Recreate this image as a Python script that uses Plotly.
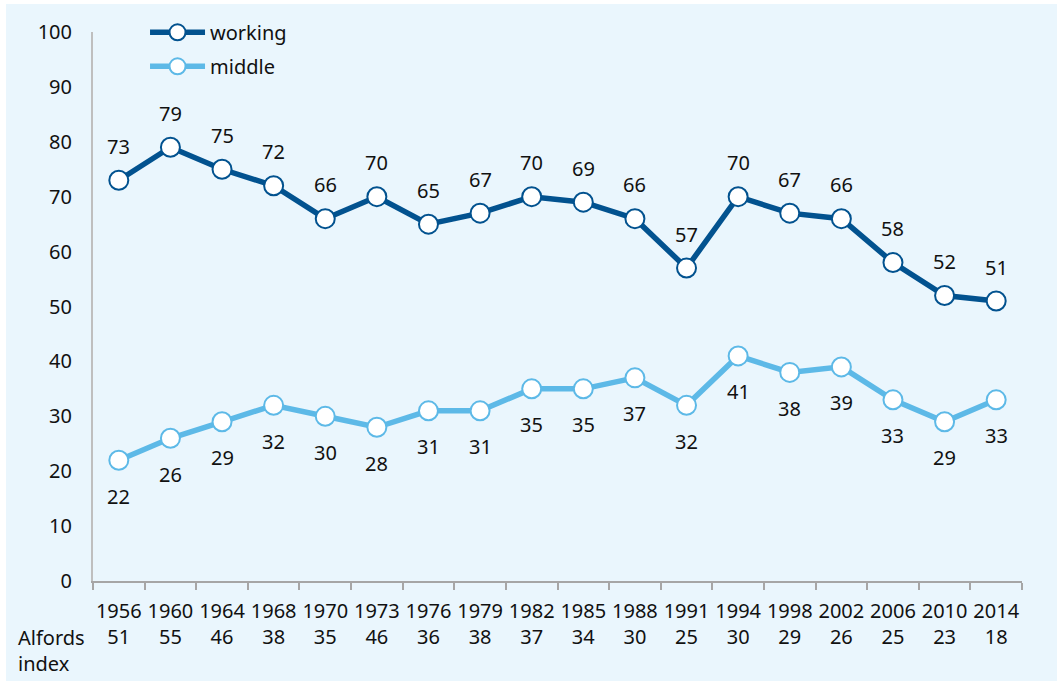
import plotly.graph_objects as go

years = ["1956","1960","1964","1968","1970","1973","1976","1979","1982","1985","1988","1991","1994","1998","2002","2006","2010","2014"]
alford = [51,55,46,38,35,46,36,38,37,34,30,25,30,29,26,25,23,18]
working = [73,79,75,72,66,70,65,67,70,69,66,57,70,67,66,58,52,51]
middle = [22,26,29,32,30,28,31,31,35,35,37,32,41,38,39,33,29,33]

DARK = "#02528F"
LIGHT = "#5DB9E7"
BG = "#EAF6FD"
FONT = "Noto Sans"
TXT = "#111111"

idx = list(range(len(years)))
ticktext = [f"{y}<br>{a}" for y, a in zip(years, alford)]
bounds = [i - 0.5 for i in range(len(years) + 1)]

fig = go.Figure()
fig.add_trace(go.Scatter(x=idx, y=working, name="working", mode="lines+markers", legendgroup="w",
                         line=dict(color=DARK, width=5.5),
                         marker=dict(size=19, color="white", line=dict(color=DARK, width=2))))
fig.add_trace(go.Scatter(x=idx, y=middle, name="middle", mode="lines+markers", legendgroup="m",
                         line=dict(color=LIGHT, width=5.5),
                         marker=dict(size=19, color="white", line=dict(color=LIGHT, width=2))))

ann = []
for x, v in zip(idx, working):
    ann.append(dict(x=x, y=v, text=str(v), showarrow=False, yshift=34,
                    font=dict(family=FONT, size=20, color=TXT)))
for x, v in zip(idx, middle):
    ann.append(dict(x=x, y=v, text=str(v), showarrow=False, yshift=-36,
                    font=dict(family=FONT, size=20, color=TXT)))
ann.append(dict(xref="paper", yref="paper", x=-0.083, y=-0.1275, xanchor="left", yanchor="middle",
                text="Alfords<br>index", align="left", showarrow=False,
                font=dict(family=FONT, size=20, color=TXT)))

fig.update_layout(
    width=1051, height=677,
    margin=dict(l=87, r=35, t=28, b=100, autoexpand=False),
    paper_bgcolor=BG, plot_bgcolor=BG,
    font=dict(family=FONT, size=20, color=TXT),
    showlegend=True,
    legend=dict(x=0.056, y=1.035, xanchor="left", yanchor="top", bgcolor="rgba(0,0,0,0)",
                font=dict(family=FONT, size=20, color=TXT), itemwidth=55, tracegroupgap=5),
    annotations=ann,
    xaxis=dict(range=[-0.5, len(years) - 0.5], tickmode="array", tickvals=idx, ticktext=ticktext,
               ticks="", showline=True, linecolor="#A6A6A6", linewidth=2, showgrid=False, zeroline=False,
               ticklabelstandoff=11,
               tickfont=dict(family=FONT, size=20, color=TXT),
               minor=dict(tickmode="array", tickvals=bounds, ticks="outside", ticklen=7,
                          tickcolor="#A6A6A6", tickwidth=2, showgrid=False)),
    yaxis=dict(range=[0, 100], dtick=10, showgrid=False, zeroline=False,
               showline=True, linecolor="#BFBFBF", linewidth=2,
               ticks="outside", ticklen=15, tickcolor="rgba(0,0,0,0)",
               tickfont=dict(family=FONT, size=20, color=TXT)),
)

fig.write_html("out.html", post_script="document.body.style.margin='4px 0 0 6px';")
